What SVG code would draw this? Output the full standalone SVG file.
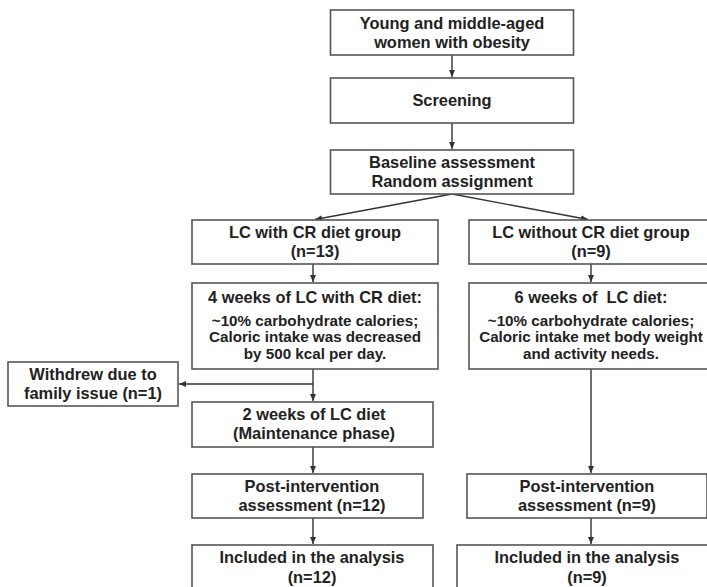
<svg xmlns="http://www.w3.org/2000/svg" width="707" height="587" viewBox="0 0 707 587">
<style>
rect.box{fill:#fff;stroke:#555;stroke-width:1.6}
text{font-family:"Liberation Sans",Arial,sans-serif;font-weight:bold;fill:#222;text-anchor:middle}
.h{font-size:16.4px}
.b{font-size:15.2px}
.c line,.c polyline{stroke:#333;stroke-width:1.4;fill:none}
</style>
<defs>
<marker id="ah" markerWidth="8" markerHeight="8" refX="7" refY="4" orient="auto" markerUnits="userSpaceOnUse">
<path d="M0,1 L7,4 L0,7 Z" fill="#333"/>
</marker>
</defs>
<rect width="707" height="587" fill="#fff"/>
<g id="connectors" class="c">
<line x1="452" y1="55" x2="452" y2="77" marker-end="url(#ah)"/>
<line x1="452" y1="123" x2="452" y2="149" marker-end="url(#ah)"/>
<line x1="452" y1="194" x2="315" y2="219.5" marker-end="url(#ah)"/>
<line x1="452" y1="194" x2="588" y2="219.5" marker-end="url(#ah)"/>
<line x1="313" y1="264" x2="313" y2="282" marker-end="url(#ah)"/>
<line x1="591" y1="264" x2="591" y2="282" marker-end="url(#ah)"/>
<line x1="313" y1="369" x2="313" y2="401" marker-end="url(#ah)"/>
<line x1="313" y1="384" x2="179" y2="384" marker-end="url(#ah)"/>
<line x1="313" y1="447" x2="313" y2="473" marker-end="url(#ah)"/>
<line x1="313" y1="518" x2="313" y2="544" marker-end="url(#ah)"/>
<line x1="591" y1="369" x2="591" y2="473" marker-end="url(#ah)"/>
<line x1="591" y1="518" x2="591" y2="544" marker-end="url(#ah)"/>
</g>
<g id="n-start">
<rect class="box" x="330.5" y="10" width="243" height="45"/>
<text class="h" x="452" y="29">Young and middle-aged</text>
<text class="h" x="452" y="48">women with obesity</text>
</g>
<g id="n-screening">
<rect class="box" x="330.5" y="78" width="243" height="45"/>
<text class="h" x="452" y="106">Screening</text>
</g>
<g id="n-baseline">
<rect class="box" x="330.5" y="150" width="243" height="44"/>
<text class="h" x="452" y="168">Baseline assessment</text>
<text class="h" x="452" y="187">Random assignment</text>
</g>
<g id="n-lccr">
<rect class="box" x="192" y="220" width="246" height="44"/>
<text class="h" x="315" y="238">LC with CR diet group</text>
<text class="h" x="315" y="257">(n=13)</text>
</g>
<g id="n-lcnocr">
<rect class="box" x="469" y="220" width="245" height="44"/>
<text class="h" x="591" y="238">LC without CR diet group</text>
<text class="h" x="591" y="257">(n=9)</text>
</g>
<g id="n-4weeks">
<rect class="box" x="192" y="283" width="246" height="86"/>
<text class="h" x="315" y="303">4 weeks of LC with CR diet:</text>
<text class="b" x="315" y="326">~10% carbohydrate calories;</text>
<text class="b" x="315" y="342">Caloric intake was decreased</text>
<text class="b" x="315" y="359">by 500 kcal per day.</text>
</g>
<g id="n-6weeks">
<rect class="box" x="469" y="283" width="245" height="86"/>
<text class="h" x="591" y="303" xml:space="preserve">6 weeks of  LC diet:</text>
<text class="b" x="591" y="326">~10% carbohydrate calories;</text>
<text class="b" x="591" y="342">Caloric intake met body weight</text>
<text class="b" x="591" y="359">and activity needs.</text>
</g>
<g id="n-withdrew">
<rect class="box" x="8" y="362" width="170" height="44"/>
<text class="h" x="93" y="380">Withdrew due to</text>
<text class="h" x="93" y="399">family issue (n=1)</text>
</g>
<g id="n-2weeks">
<rect class="box" x="192" y="402" width="241" height="45"/>
<text class="h" x="314" y="420">2 weeks of LC diet</text>
<text class="h" x="314" y="439">(Maintenance phase)</text>
</g>
<g id="n-post-left">
<rect class="box" x="192" y="474" width="231" height="44"/>
<text class="h" x="312" y="492">Post-intervention</text>
<text class="h" x="312" y="511">assessment (n=12)</text>
</g>
<g id="n-post-right">
<rect class="box" x="467" y="474" width="240" height="44"/>
<text class="h" x="587" y="492">Post-intervention</text>
<text class="h" x="587" y="511">assessment (n=9)</text>
</g>
<g id="n-incl-left">
<rect class="box" x="192" y="545" width="241" height="50"/>
<text class="h" x="312" y="563">Included in the analysis</text>
<text class="h" x="312" y="583">(n=12)</text>
</g>
<g id="n-incl-right">
<rect class="box" x="457" y="545" width="262" height="50"/>
<text class="h" x="587" y="563">Included in the analysis</text>
<text class="h" x="587" y="583">(n=9)</text>
</g>
</svg>
